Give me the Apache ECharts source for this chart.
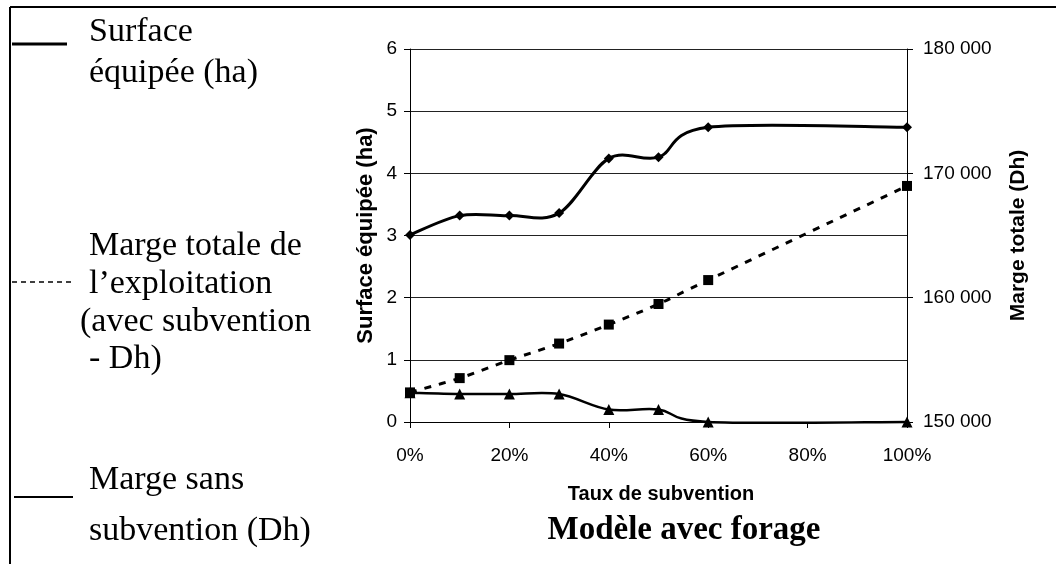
<!DOCTYPE html>
<html><head><meta charset="utf-8">
<script src="https://cdn.jsdelivr.net/npm/echarts@6/dist/echarts.min.js"></script>
<style>html,body{margin:0;padding:0;background:#fff}#c{width:1056px;height:564px}</style>
</head><body><div id="c"></div>
<script>
const taux = [0, 10, 20, 30, 40, 50, 60, 100];
const surface = [3.01, 3.32, 3.32, 3.36, 4.24, 4.26, 4.74, 4.74];
const margeTotale = [152380, 153530, 154975, 156310, 157835, 159490, 161415, 168985];
const margeSans = [0.47, 0.45, 0.45, 0.45, 0.20, 0.20, 0, 0];
const legendSurface = ['Surface', 'équipée (ha)'];
const legendTotale = ['Marge totale de', 'l\u2019exploitation', '(avec subvention', '- Dh)'];
const legendSans = ['Marge sans', 'subvention (Dh)'];

const sans = 'Liberation Sans, Arial, sans-serif';
const serif = 'Liberation Serif, Times New Roman, serif';
const pair = (xs, ys) => xs.map((x, i) => [x, ys[i]]);
const fmtSpace = v => String(v).replace(/\B(?=(\d{3})+(?!\d))/g, ' ');

// Excel-like (Catmull-Rom) smoothing through points projected by the chart's axes
function smoothCurve(ys, width, dash) {
  return function (params, api) {
    if (params.dataIndex !== 0) return null;
    const p = taux.map((x, i) => api.coord([x, ys[i]]));
    let d = 'M' + p[0][0] + ',' + p[0][1];
    for (let i = 0; i < p.length - 1; i++) {
      const p0 = p[i - 1] || p[i], p1 = p[i], p2 = p[i + 1], p3 = p[i + 2] || p[i + 1];
      const c1 = [p1[0] + (p2[0] - p0[0]) / 6, p1[1] + (p2[1] - p0[1]) / 6];
      const c2 = [p2[0] - (p3[0] - p1[0]) / 6, p2[1] - (p3[1] - p1[1]) / 6];
      d += ' C' + c1[0] + ',' + c1[1] + ' ' + c2[0] + ',' + c2[1] + ' ' + p2[0] + ',' + p2[1];
    }
    return {type: 'path', shape: {pathData: d}, style: {stroke: '#000', lineWidth: width, fill: null, lineDash: dash || null}};
  };
}

function legendText(lines, x, ys) {
  return lines.map((t, i) => ({type: 'text', x: (Array.isArray(x) ? x[i] : x), y: ys[i],
    style: {text: t, fontFamily: serif, fontSize: 34, fill: '#000', textVerticalAlign: 'middle'}}));
}

const chart = echarts.init(document.getElementById('c'));
chart.setOption({
  animation: false,
  backgroundColor: '#fff',
  grid: {left: 410, right: 149, top: 49, bottom: 142, containLabel: false},
  xAxis: {
    type: 'value', min: 0, max: 100, interval: 20,
    axisLine: {show: true, lineStyle: {color: '#000', width: 1}},
    axisTick: {show: true, inside: false, length: 6, lineStyle: {color: '#000'}},
    axisLabel: {formatter: '{value}%', color: '#000', fontFamily: sans, fontSize: 19, margin: 24},
    splitLine: {show: false}
  },
  yAxis: [{
    type: 'value', min: 0, max: 6, interval: 1, position: 'left',
    name: 'Surface équipée (ha)', nameLocation: 'middle', nameGap: 33, nameRotate: 90,
    nameTextStyle: {color: '#000', fontFamily: sans, fontSize: 22, fontWeight: 'bold'},
    axisLine: {show: true, lineStyle: {color: '#000', width: 1}},
    axisTick: {show: true, inside: false, length: 6, lineStyle: {color: '#000'}},
    axisLabel: {color: '#000', fontFamily: sans, fontSize: 19, margin: 13},
    splitLine: {show: true, lineStyle: {color: '#222', width: 1}}
  }, {
    type: 'value', min: 150000, max: 180000, interval: 10000, position: 'right',
    name: 'Marge totale (Dh)', nameLocation: 'middle', nameGap: 101, nameRotate: 90,
    nameTextStyle: {color: '#000', fontFamily: sans, fontSize: 21, fontWeight: 'bold'},
    axisLine: {show: true, lineStyle: {color: '#000', width: 1}},
    axisTick: {show: true, inside: false, length: 6, lineStyle: {color: '#000'}},
    axisLabel: {color: '#000', fontFamily: sans, fontSize: 19, margin: 16, formatter: fmtSpace},
    splitLine: {show: false}
  }],
  series: [
    {type: 'custom', yAxisIndex: 0, z: 1, data: pair(taux, surface), renderItem: smoothCurve(surface, 3)},
    {type: 'custom', yAxisIndex: 1, z: 1, data: pair(taux, margeTotale), renderItem: smoothCurve(margeTotale, 3, [7, 8])},
    {type: 'custom', yAxisIndex: 0, z: 1, data: pair(taux, margeSans), renderItem: smoothCurve(margeSans, 2.5)},
    {name: 'Surface équipée (ha)', type: 'line', yAxisIndex: 0, z: 3, data: pair(taux, surface),
      symbol: 'diamond', symbolSize: 10, lineStyle: {opacity: 0}, itemStyle: {color: '#000'}},
    {name: 'Marge totale', type: 'line', yAxisIndex: 1, z: 3, data: pair(taux, margeTotale),
      symbol: 'rect', symbolSize: 10, lineStyle: {opacity: 0}, itemStyle: {color: '#000'}},
    {name: 'Marge sans subvention', type: 'line', yAxisIndex: 0, z: 3, data: pair(taux, margeSans),
      symbol: 'triangle', symbolSize: 11, lineStyle: {opacity: 0}, itemStyle: {color: '#000'}}
  ],
  graphic: [
    {type: 'line', shape: {x1: 10, y1: 7, x2: 1056, y2: 7}, style: {stroke: '#000', lineWidth: 2}},
    {type: 'line', shape: {x1: 10, y1: 7, x2: 10, y2: 564}, style: {stroke: '#000', lineWidth: 2}},
    {type: 'line', shape: {x1: 12, y1: 44, x2: 67, y2: 44}, style: {stroke: '#000', lineWidth: 3}},
    {type: 'line', shape: {x1: 12, y1: 282, x2: 72, y2: 282}, style: {stroke: '#000', lineWidth: 1.5, lineDash: [5, 4]}},
    {type: 'line', shape: {x1: 14, y1: 497, x2: 73, y2: 497}, style: {stroke: '#000', lineWidth: 2}},
    ...legendText(legendSurface, 89, [32, 73]),
    ...legendText(legendTotale, [89, 89, 80, 89], [246, 284, 322, 359]),
    ...legendText(legendSans, 89, [480, 531]),
    {type: 'text', x: 661, y: 494, style: {text: 'Taux de subvention', fontFamily: sans, fontSize: 20, fontWeight: 'bold', fill: '#000', textAlign: 'center', textVerticalAlign: 'middle'}},
    {type: 'text', x: 684, y: 530, style: {text: 'Modèle avec forage', fontFamily: serif, fontSize: 33, fontWeight: 'bold', fill: '#000', textAlign: 'center', textVerticalAlign: 'middle'}}
  ]
});
</script></body></html>
